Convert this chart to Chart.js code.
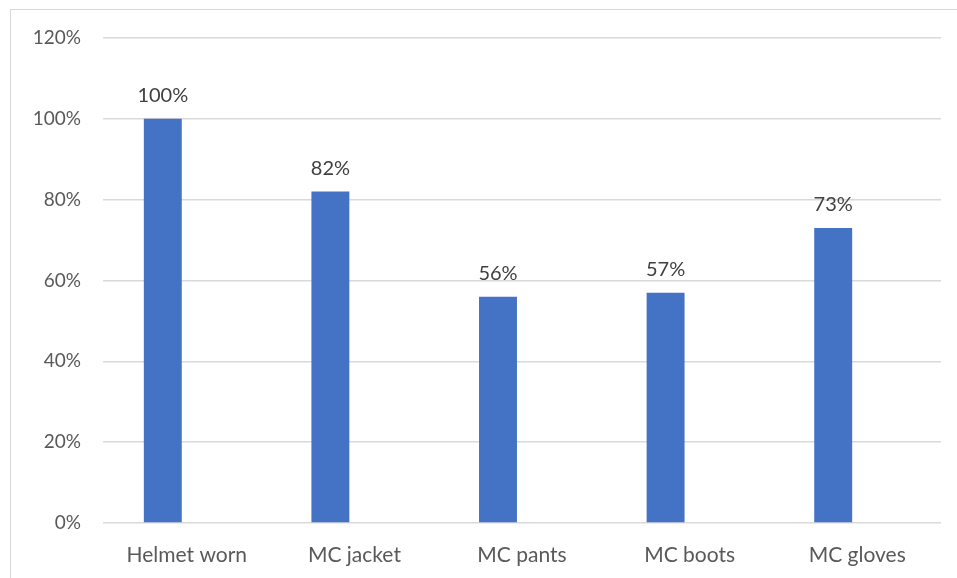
<!DOCTYPE html>
<html>
<head>
<meta charset="utf-8">
<script src="https://cdn.jsdelivr.net/npm/chart.js@4.4.0/dist/chart.umd.min.js"></script>
<style>
  html, body { margin: 0; padding: 0; background: #fff; }
  #wrap { position: absolute; left: 0; top: 0; width: 957px; height: 578px; }
  #frame { position: absolute; left: 10px; top: 9px; width: 960px; height: 580px; border: 1px solid #d9d9d9; box-sizing: border-box; }
</style>
</head>
<body>
<div id="wrap">
  <div id="frame"></div>
  <canvas id="chart" width="957" height="578"></canvas>
</div>
<script>
const categories = ["Helmet worn", "MC jacket", "MC pants", "MC boots", "MC gloves"];
const values = [100, 82, 56, 57, 73];
const emptySeries = [null, null, null, null, null];
const yTicks = [0, 20, 40, 60, 80, 100, 120];

const font = "Lato, 'Open Sans', sans-serif";

// draw value labels above each bar
const barLabels = {
    id: "barLabels",
    afterDatasetsDraw(chart) {
        const ctx = chart.ctx;
        const meta = chart.getDatasetMeta(0);
        ctx.save();
        ctx.fillStyle = "#404040";
        ctx.font = "20px " + font;
        ctx.textAlign = "center";
        ctx.textBaseline = "bottom";
        meta.data.forEach(function (bar, i) {
            ctx.fillText(values[i] + "%", bar.x, bar.y - 13);
        });
        ctx.restore();
    }
};

new Chart(document.getElementById("chart"), {
    type: "bar",
    data: {
        labels: categories,
        datasets: [{
            data: values,
            backgroundColor: "#4472C4",
            barPercentage: 0.79,
            categoryPercentage: 0.573
        }, {
            // second (empty) series keeps the bars left of the category centre
            data: emptySeries,
            backgroundColor: "#ED7D31",
            barPercentage: 0.79,
            categoryPercentage: 0.573
        }]
    },
    options: {
        responsive: false,
        animation: false,
        layout: { padding: { left: 10, right: 16, top: 38, bottom: 0 } },
        plugins: { legend: { display: false }, tooltip: { enabled: false } },
        scales: {
            x: {
                afterFit: function (scale) { scale.height = 55; },
                grid: { display: false },
                border: { display: false },
                ticks: { color: "#595959", font: { family: font, size: 21 }, padding: 12 }
            },
            y: {
                min: 0,
                max: 120,
                afterFit: function (scale) { scale.width = 93; },
                afterBuildTicks: function (scale) { scale.ticks = yTicks.map(v => ({ value: v })); },
                grid: { color: "#d9d9d9", lineWidth: 1.5, drawTicks: false },
                border: { display: false },
                ticks: {
                    color: "#595959",
                    font: { family: font, size: 19 },
                    padding: 22,
                    callback: v => v + "%"
                }
            }
        }
    },
    plugins: [barLabels]
});
</script>
</body>
</html>
